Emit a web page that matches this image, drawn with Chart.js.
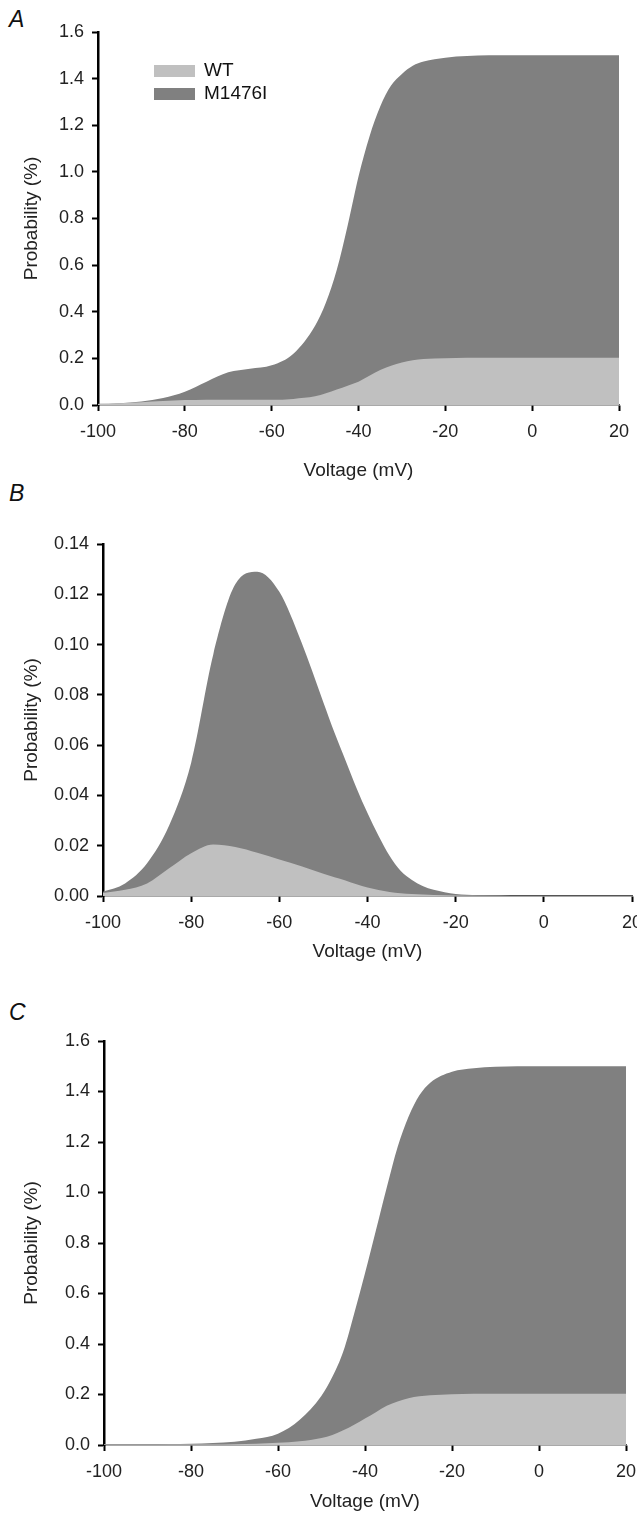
<!DOCTYPE html>
<html>
<head>
<meta charset="utf-8">
<script src="https://cdn.jsdelivr.net/npm/chart.js@4.4.1/dist/chart.umd.min.js"></script>
<style>
body { margin: 0; width: 637px; height: 1521px; overflow: hidden; background: #fff; position: relative;
       font-family: "Liberation Sans", Arial, sans-serif; }
.panel { position: absolute; left: 0; width: 660px; }
.letter { position: absolute; left: 9px; font-style: italic; font-size: 23px; color: #111; line-height: 1; }
.legend { position: absolute; left: 154px; top: 58px; font-size: 19px; color: #111; }
.legend div { height: 23px; line-height: 23px; }
.legend span { display: inline-block; width: 41px; height: 12px; margin-right: 9px; vertical-align: -1px; }
</style>
</head>
<body>
<div class="letter" style="top:8px">A</div>
<div class="letter" style="top:482px">B</div>
<div class="letter" style="top:1001px">C</div>
<canvas id="chartA" class="panel" style="top:0px" width="660" height="490"></canvas>
<canvas id="chartB" class="panel" style="top:490px" width="660" height="490"></canvas>
<canvas id="chartC" class="panel" style="top:980px" width="660" height="541"></canvas>
<div class="legend">
	<div><span style="background:#c0c0c0"></span>WT</div>
	<div><span style="background:#808080"></span>M1476I</div>
</div>
<script>
// membrane voltage (mV), shared by all three panels
var voltage = [-100, -95, -90, -85, -80, -75, -70, -65, -60, -55, -50, -47.5, -45, -42.5, -40,
	-37.5, -35, -32.5, -30, -27.5, -25, -20, -15, -10, -5, 0, 5, 10, 15, 20];

// panel A
var wtA = [0.004, 0.007, 0.012, 0.017, 0.021, 0.023, 0.023, 0.022, 0.022, 0.026, 0.037, 0.05, 0.066, 0.083, 0.1,
	0.125, 0.15, 0.168, 0.182, 0.192, 0.197, 0.201, 0.203, 0.203, 0.203, 0.203, 0.203, 0.203, 0.203, 0.203];
var mutA = [0.005, 0.008, 0.015, 0.03, 0.057, 0.1, 0.14, 0.155, 0.17, 0.22, 0.34, 0.44, 0.58, 0.77, 0.98,
	1.15, 1.28, 1.37, 1.42, 1.455, 1.473, 1.49, 1.497, 1.5, 1.5, 1.5, 1.5, 1.5, 1.5, 1.5];

// panel B
var wtB = [0.0012, 0.0025, 0.005, 0.011, 0.017, 0.0205, 0.0195, 0.0172, 0.0145, 0.0118, 0.0088, 0.0075, 0.0062, 0.0047, 0.0034,
	0.0024, 0.0016, 0.0011, 0.0008, 0.0006, 0.0004, 0.0002, 0.0001, 0.0001, 0, 0, 0, 0, 0, 0];
var mutB = [0.0017, 0.005, 0.013, 0.028, 0.053, 0.096, 0.124, 0.129, 0.121, 0.101, 0.077, 0.065, 0.054, 0.043, 0.033,
	0.024, 0.016, 0.01, 0.0065, 0.004, 0.0025, 0.0008, 0.0003, 0.0001, 0, 0, 0, 0, 0, 0];

// panel C
var wtC = [0.002, 0.002, 0.002, 0.002, 0.002, 0.002, 0.003, 0.005, 0.009, 0.015, 0.028, 0.04, 0.058, 0.08, 0.105,
	0.13, 0.155, 0.172, 0.185, 0.193, 0.197, 0.201, 0.203, 0.203, 0.203, 0.203, 0.203, 0.203, 0.203, 0.203];
var mutC = [0.003, 0.003, 0.003, 0.004, 0.005, 0.008, 0.013, 0.025, 0.045, 0.1, 0.195, 0.27, 0.37, 0.52, 0.68,
	0.85, 1.02, 1.18, 1.3, 1.385, 1.435, 1.478, 1.492, 1.498, 1.5, 1.5, 1.5, 1.5, 1.5, 1.5];

var xTicks = [-100, -80, -60, -40, -20, 0, 20];

function points(ys) {
	return voltage.map(function(v, i) { return {x: v, y: ys[i]}; });
}

function makePanel(id, wt, mut, yMax, yStep, digits, g) {
	var family = "'Liberation Sans', Arial, sans-serif";
	var font = {family: family, size: 18};
	var ctx = document.getElementById(id).getContext("2d");
	return new Chart(ctx, {
		type: 'line',
		data: {
			datasets: [{
				label: 'WT',
				data: points(wt),
				backgroundColor: '#c0c0c0',
				borderWidth: 0,
				pointRadius: 0,
				fill: 'origin',
				cubicInterpolationMode: 'monotone'
			}, {
				label: 'M1476I',
				data: points(mut),
				backgroundColor: '#808080',
				borderWidth: 0,
				pointRadius: 0,
				fill: 'origin',
				cubicInterpolationMode: 'monotone'
			}]
		},
		options: {
			responsive: false,
			animation: false,
			layout: {padding: {top: g.top, right: 660 - g.right, left: 0, bottom: 0}},
			plugins: {legend: {display: false}, tooltip: {enabled: false}},
			scales: {
				x: {
					type: 'linear', min: -100, max: 20,
					afterBuildTicks: function(s) { s.ticks = xTicks.map(function(v) { return {value: v}; }); },
					afterFit: function(s) { s.height = g.xh; },
					ticks: {color: '#222', font: font, padding: 10, maxRotation: 0},
					grid: {drawOnChartArea: false, drawTicks: true, tickLength: 6, tickColor: '#000', tickWidth: 2},
					border: {color: '#555', width: 1.5},
					title: {display: true, text: 'Voltage (mV)', color: '#222', font: {family: family, size: 19},
						padding: {top: 0, bottom: g.tpad}}
				},
				y: {
					min: 0, max: yMax,
					afterFit: function(s) { s.width = g.left; },
					ticks: {stepSize: yStep, color: '#222', font: font, padding: 8,
						callback: function(v) { return v.toFixed(digits); }},
					grid: {drawOnChartArea: false, drawTicks: true, tickLength: 6, tickColor: '#000', tickWidth: 2},
					border: {color: '#000', width: 2.5},
					title: {display: true, text: 'Probability (%)', color: '#222', font: {family: family, size: 19},
						padding: {top: 20, bottom: 0}}
				}
			}
		}
	});
}

makePanel('chartA', wtA, mutA, 1.6, 0.2, 1, {top: 32, right: 619, left: 98, xh: 85, tpad: 8});
makePanel('chartB', wtB, mutB, 0.14, 0.02, 2, {top: 54, right: 632, left: 103, xh: 84, tpad: 17});
makePanel('chartC', wtC, mutC, 1.6, 0.2, 1, {top: 61, right: 626, left: 104, xh: 76, tpad: 8});
</script>
</body>
</html>
